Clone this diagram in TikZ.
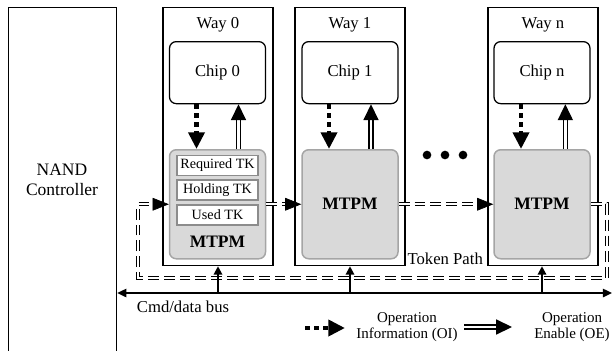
\documentclass[tikz,border=0pt]{standalone}
\usepackage{fontspec}
\setmainfont{Liberation Serif}
\usetikzlibrary{arrows.meta,positioning}

\definecolor{mtpmfill}{HTML}{D9D9D9}
\definecolor{mtpmline}{HTML}{A5A5A5}
\definecolor{tkline}{HTML}{8C8C8C}

\tikzset{
	ctrlbox/.style={draw, line width=0.75pt, minimum width=64.8pt, minimum height=212pt, anchor=north west, inner sep=0pt},
	waybox/.style={draw, line width=0.75pt, minimum width=66pt, minimum height=154.8pt, anchor=north, inner sep=0pt},
	chipbox/.style={draw, rounded corners=4pt, line width=0.75pt, minimum width=57.6pt, minimum height=37.2pt, anchor=north, font=\fontsize{10}{12}\selectfont},
	mtpmbox/.style={draw=mtpmline, fill=mtpmfill, rounded corners=4pt, line width=0.9pt, minimum width=57.6pt, minimum height=65.4pt, anchor=north, font=\fontsize{10.5}{12}\selectfont\bfseries},
	tkbox/.style={draw=tkline, fill=white, line width=0.9pt, minimum width=48.6pt, minimum height=12pt, inner sep=0pt, font=\fontsize{8.5}{10}\selectfont},
	oi/.style={line width=2.7pt, dash pattern=on 3pt off 2.4pt, -{Triangle[length=10pt, width=9.5pt]}},
	oe/.style={double, line width=0.8pt, double distance=1.6pt, -{Triangle[length=9.5pt, width=9pt]}},
	token/.style={double, line width=0.6pt, double distance=1.2pt, dash pattern=on 6.5pt off 3pt},
	tokentip/.style={fill=black, draw=black, line width=0.4pt, line join=miter},
	bus/.style={line width=1.1pt, {Triangle[length=5.5pt, width=5pt]}-{Triangle[length=5.5pt, width=5pt]}},
	busup/.style={line width=1.2pt, -{Triangle[length=5pt, width=5pt]}}
}

\begin{document}
\begin{tikzpicture}[x=0.6pt, y=-0.6pt]
	%%%%% START %%%%%
	\useasboundingbox (0,0) rectangle (613,350);
	
	% controller, runs off the bottom edge
	\node[ctrlbox] (ctrl) at (8,7) {};
	\node[align=center, font=\fontsize{10.5}{12}\selectfont] (ctrllabel) at (62,180) {NAND\\Controller};
	
	% ways
	\node[waybox] (way0) at (218,7) {};
	\node[waybox] (way1) at (350,7) {};
	\node[waybox] (wayn) at (543,7) {};
	\node (way0label) at (218,25) {Way 0};
	\node (way1label) at (350,25) {Way 1};
	\node (waynlabel) at (543,25) {Way n};
	
	% chips
	\node[chipbox] (chip0) at (217.5,41) {Chip 0};
	\node[chipbox] (chip1) at (350,41) {Chip 1};
	\node[chipbox] (chipn) at (542,41) {Chip n};
	
	% token managers
	\node[mtpmbox, text depth=0pt] (mtpm0) at (217.5,149) {};
	\node[tkbox] (reqtk) at (217.5,165.5) {Required TK};
	\node[tkbox] (holdtk) at (217.5,190) {Holding TK};
	\node[tkbox] (usedtk) at (217.5,215) {Used TK};
	\node[font=\fontsize{10.5}{12}\selectfont\bfseries] (mtpm0label) at (217.5,242) {MTPM};
	\node[mtpmbox] (mtpm1) at (350,149) {MTPM};
	\node[mtpmbox] (mtpmn) at (542,149) {MTPM};
	
	\fill (427,155) circle (2.6pt);
	\fill (445,155) circle (2.6pt);
	\fill (463,155) circle (2.6pt);
	
	% chip <-> mtpm
	\draw[oi] ([xshift=-12.6pt]chip0.south) -- ([xshift=-12.6pt]mtpm0.north);
	\draw[oe] ([xshift=12.6pt]mtpm0.north) -- ([xshift=12.6pt]chip0.south);
	\draw[oi] ([xshift=-12.6pt]chip1.south) -- ([xshift=-12.6pt]mtpm1.north);
	\draw[oe] ([xshift=12.6pt]mtpm1.north) -- ([xshift=12.6pt]chip1.south);
	\draw[oi] ([xshift=-12.6pt]chipn.south) -- ([xshift=-12.6pt]mtpmn.north);
	\draw[oe] ([xshift=14pt]mtpmn.north) -- ([xshift=14pt]chipn.south);
	
	% token path, heads filled on their own
	\coordinate (tkr) at (607,278);
	\coordinate (tkl) at (138,278);
	\draw[token] (mtpm0.east) -- ([xshift=-5pt]mtpm1.west);
	\draw[token] (mtpm1.east) -- ([xshift=-5pt]mtpmn.west);
	\draw[token] (mtpmn.east) -| (tkr) -- (tkl) |- ([xshift=-5pt]mtpm0.west);
	\filldraw[tokentip] ([xshift=-0.5pt]mtpm0.west) -- ++(-15,-6) -- ++(0,12) -- cycle;
	\filldraw[tokentip] ([xshift=-0.5pt]mtpm1.west) -- ++(-15,-6) -- ++(0,12) -- cycle;
	\filldraw[tokentip] ([xshift=-0.5pt]mtpmn.west) -- ++(-15,-6) -- ++(0,12) -- cycle;
	\node[anchor=south west, inner sep=1pt] (tklabel) at (way1.south east) {Token Path};
	
	% cmd/data bus
	\coordinate (busr) at (612,293);
	\coordinate (busl) at (ctrl.east |- busr);
	\draw[bus] (busl) -- (busr);
	\draw[busup] (way0.south |- busr) -- (way0.south);
	\draw[busup] (way1.south |- busr) -- (way1.south);
	\draw[busup] ([xshift=-0.6pt]wayn.south |- busr) -- ([xshift=-0.6pt]wayn.south);
	\node (buslabel) at (183,307) {Cmd/data bus};
	
	% legend
	\coordinate (oia) at (305,328);
	\coordinate (oib) at (345,328);
	\coordinate (oea) at (464,327);
	\coordinate (oeb) at (512,327);
	\draw[oi] (oia) -- (oib);
	\draw[oe] (oea) -- (oeb);
	\node[align=center, font=\fontsize{9}{9.5}\selectfont] (oilabel) at (407,327) {Operation\\Information (OI)};
	\node[align=center, font=\fontsize{9}{9.5}\selectfont] (oelabel) at (572,327) {Operation\\Enable (OE)};
	
	%%%%% END %%%%%
\end{tikzpicture}
\end{document}
